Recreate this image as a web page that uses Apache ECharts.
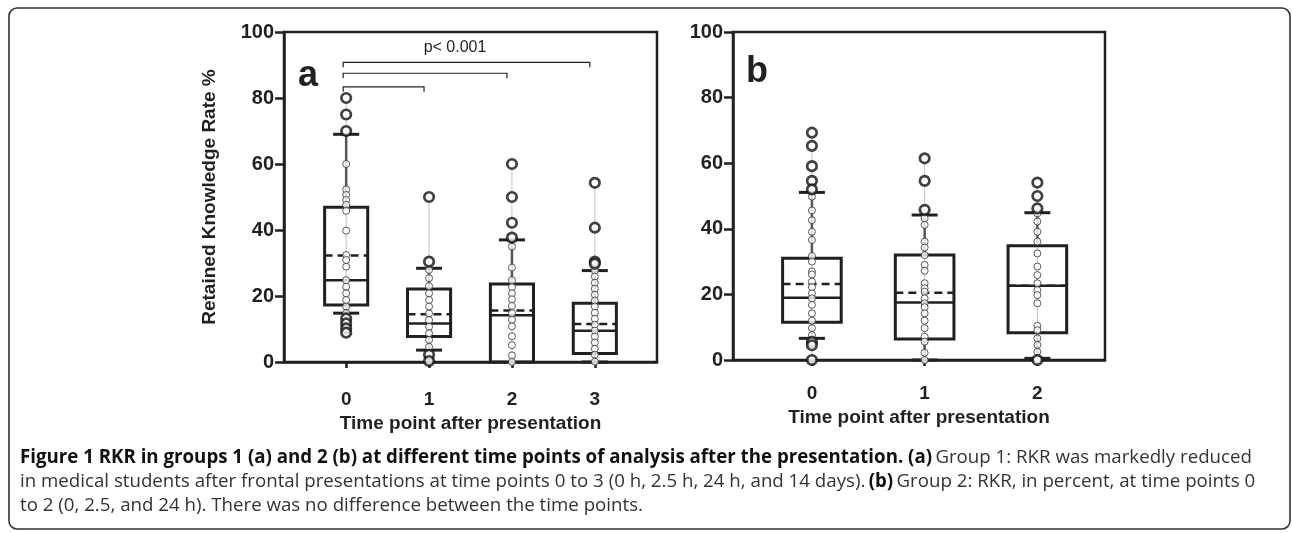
<!DOCTYPE html>
<html>
<head>
<meta charset="utf-8">
<script src="https://cdn.jsdelivr.net/npm/echarts@6/dist/echarts.min.js"></script>
<style>
html,body{margin:0;padding:0;background:#fff;}
#c{width:1292px;height:533px;}
</style>
</head>
<body>
<div id="c"></div>
<script>
// ---------- DATA ----------
const tickLabelsA = ['0', '1', '2', '3'];
const tickLabelsB = ['0', '1', '2'];
const yTicks = [0, 20, 40, 60, 80, 100];

// box statistics per time point: [lower cap, Q1, median, Q3, upper cap]
const boxStatsA = [
  [14.8, 17.3, 24.8, 46.9, 69.0],
  [3.6, 7.7, 11.7, 22.1, 28.4],
  [0.0, 0.0, 14.2, 23.6, 37.0],
  [0.0, 2.6, 9.5, 17.8, 27.7]
];
const meansA = [32.3, 14.5, 15.6, 11.5];

const boxStatsB = [
  [6.6, 11.5, 19.0, 31.0, 51.1],
  [0.0, 6.4, 17.5, 32.0, 44.2],
  [0.5, 8.3, 22.6, 34.8, 44.9]
];
const meansB = [23.2, 20.5, 22.6];

// individual values (small circles)
const pointsA0 = [60, 52.3, 50.6, 49.1, 47.6, 45.8, 39.8, 32.4, 30.9, 28.9, 24.8, 22.8, 20.8, 18.8, 16.8, 14.8];
const pointsA1 = [27.9, 25.4, 23.0, 20.8, 18.8, 16.8, 14.7, 12.7, 10.7, 8.7, 6.7, 4.6];
const pointsA2 = [35.0, 28.6, 24.8, 22.7, 20.8, 19.0, 17.0, 14.8, 12.8, 10.8, 7.8, 5.1, 2.0, 0.0];
const pointsA3 = [27.7, 25.9, 24.0, 22.2, 20.4, 18.6, 16.8, 14.9, 13.1, 11.3, 9.5, 7.7, 5.9, 4.0, 2.2, 0.1];
// outliers (bold circles)
const outliersA0 = [80, 75, 70, 13.2, 11.7, 10.2, 8.9];
const outliersA1 = [50, 30.4, 2.2, 0.3];
const outliersA2 = [60, 50, 42.2, 37.7];
const outliersA3 = [54.3, 40.7, 30.4, 29.8];

const pointsB0 = [49.8, 45.6, 42.6, 39.1, 36.6, 31.7, 30.0, 27.0, 26.1, 23.9, 22.2, 20.3, 18.8, 16.8, 14.2, 12.0, 9.7, 7.6];
const pointsB1 = [43.2, 41.2, 36.1, 34.3, 32.0, 29.0, 27.2, 23.4, 21.9, 20.8, 18.8, 17.3, 16.1, 14.2, 12.0, 9.7, 7.1, 5.6, 2.2, 0.0];
const pointsB2 = [44.7, 42.2, 39.1, 36.1, 32.5, 28.5, 25.9, 23.4, 21.3, 19.8, 17.3, 10.4, 9.1, 6.6, 4.6, 2.5, 0.2];
const outliersB0 = [69.3, 65.3, 59.1, 54.6, 52.0, 5.5, 4.5, 0.0];
const outliersB1 = [61.5, 54.6, 45.8];
const outliersB2 = [54.1, 50.0, 46.2, 0.0];

// significance brackets (panel a): from time point, to time point, height
const bracketFrom = [0, 0, 0];
const bracketTo = [1, 2, 3];
const bracketY = [83.4, 87.5, 90.8];

// ---------- BUILD ----------
const pointsA = [pointsA0, pointsA1, pointsA2, pointsA3];
const outliersA = [outliersA0, outliersA1, outliersA2, outliersA3];
const pointsB = [pointsB0, pointsB1, pointsB2];
const outliersB = [outliersB0, outliersB1, outliersB2];

function boxRows(stats, means, pts, outs) {
  return stats.map((s, i) => {
    const all = pts[i].concat(outs[i]);
    return [i, s[0], s[1], s[2], s[3], s[4], means[i], Math.min.apply(null, all), Math.max.apply(null, all)];
  });
}
function flat(groups) {
  const out = [];
  groups.forEach((g, i) => g.forEach(v => out.push([i, v])));
  return out;
}

const INK = '#231f20';

function renderBox(params, api) {
  const x = api.value(0);
  const lo = api.value(1), q1 = api.value(2), med = api.value(3), q3 = api.value(4), hi = api.value(5);
  const mean = api.value(6), mn = api.value(7), mx = api.value(8);
  const unit = api.size([1, 0])[0];
  const bw = unit * 0.52;
  const cx = api.coord([x, 0])[0];
  const Y = v => api.coord([x, v])[1];
  const L = cx - bw / 2, R = cx + bw / 2;
  const cap = 13;
  const ch = [];
  ch.push({type: 'line', shape: {x1: cx, y1: Y(mn), x2: cx, y2: Y(mx)}, style: {stroke: '#c4c4c4', lineWidth: 1}});
  if (hi > q3) {
    ch.push({type: 'line', shape: {x1: cx, y1: Y(q3), x2: cx, y2: Y(hi)}, style: {stroke: '#555', lineWidth: 2.5}});
    ch.push({type: 'line', shape: {x1: cx - cap, y1: Y(hi), x2: cx + cap, y2: Y(hi)}, style: {stroke: INK, lineWidth: 3}});
  }
  if (lo < q1) {
    ch.push({type: 'line', shape: {x1: cx, y1: Y(q1), x2: cx, y2: Y(lo)}, style: {stroke: '#555', lineWidth: 2.5}});
    ch.push({type: 'line', shape: {x1: cx - cap, y1: Y(lo), x2: cx + cap, y2: Y(lo)}, style: {stroke: INK, lineWidth: 3}});
  }
  ch.push({type: 'rect', shape: {x: L, y: Y(q3), width: bw, height: Y(q1) - Y(q3)}, style: {fill: 'none', stroke: INK, lineWidth: 3}});
  ch.push({type: 'line', shape: {x1: L, y1: Y(med), x2: R, y2: Y(med)}, style: {stroke: INK, lineWidth: 2.5}});
  ch.push({type: 'line', shape: {x1: L, y1: Y(mean), x2: R, y2: Y(mean)}, style: {stroke: INK, lineWidth: 2.5, lineDash: [8, 5]}});
  return {type: 'group', children: ch};
}

function renderBracket(params, api) {
  const a = api.coord([api.value(0), api.value(2)]);
  const b = api.coord([api.value(1), api.value(2)]);
  const x1 = a[0] - 3, x2 = b[0] - 5, y = a[1];
  return {type: 'group', children: [
    {type: 'polyline', shape: {points: [[x1, y + 5], [x1, y], [x2, y], [x2, y + 5]]}, style: {fill: 'none', stroke: INK, lineWidth: 1.2}}
  ]};
}

const axisFont = {fontFamily: 'Liberation Sans, Arial, sans-serif', fontWeight: 'bold', fontSize: 19, color: INK};

function xAxisCfg(gridIndex, min, max, labels, labelMargin, nameGap) {
  const vals = labels.map((_, i) => i);
  return {
    type: 'value', gridIndex, min, max,
    name: 'Time point after presentation', nameLocation: 'middle', nameGap,
    nameTextStyle: Object.assign({}, axisFont),
    axisLine: {show: true, onZero: false, lineStyle: {color: INK, width: 2.5}},
    axisTick: {show: true, customValues: vals, length: 6, lineStyle: {color: INK, width: 2.5}},
    axisLabel: Object.assign({show: true, customValues: vals, margin: labelMargin, formatter: v => labels[Math.round(v)]}, axisFont),
    splitLine: {show: false}
  };
}
function yAxisCfg(gridIndex, withName) {
  return {
    type: 'value', gridIndex, min: yTicks[0], max: yTicks[yTicks.length - 1], interval: yTicks[1] - yTicks[0],
    name: withName ? 'Retained Knowledge Rate %' : '', nameLocation: 'middle', nameGap: 65,
    nameTextStyle: Object.assign({}, axisFont),
    axisLine: {show: true, onZero: false, lineStyle: {color: INK, width: 2.5}},
    axisTick: {show: true, length: 9, lineStyle: {color: INK, width: 2.5}},
    axisLabel: Object.assign({}, axisFont, {margin: 10, fontSize: 20}),
    splitLine: {show: false}
  };
}

const smallPt = {symbol: 'circle', symbolSize: 7, itemStyle: {color: '#fff', borderColor: '#333', borderWidth: 1}};
const bigPt = {symbol: 'circle', symbolSize: 9.5, itemStyle: {color: '#fff', borderColor: '#111', borderWidth: 2.7}};

const chart = echarts.init(document.getElementById('c'), null, {renderer: 'canvas'});
const capFont = 'Open Sans, Lato, sans-serif';
const capSize = 18.7;
const capRich = {
  b: {fontFamily: capFont, fontWeight: 'bold', fontSize: capSize, fill: '#111'},
  n: {fontFamily: capFont, fontSize: capSize, fill: '#333'}
};
const option = {
  animation: false,
  backgroundColor: '#fff',
  grid: [
    {left: 284, top: 32, width: 373, height: 330, show: true, borderColor: INK, borderWidth: 2.5, containLabel: false, outerBoundsMode: 'none'},
    {left: 733, top: 32, width: 372, height: 328, show: true, borderColor: INK, borderWidth: 2.5, containLabel: false, outerBoundsMode: 'none'}
  ],
  xAxis: [
    xAxisCfg(0, -0.75, 3.75, tickLabelsA, 28, 52),
    xAxisCfg(1, -0.7, 2.6, tickLabelsB, 24, 48)
  ],
  yAxis: [yAxisCfg(0, true), yAxisCfg(1, false)],
  series: [
    {type: 'custom', xAxisIndex: 0, yAxisIndex: 0, z: 2, renderItem: renderBox, data: boxRows(boxStatsA, meansA, pointsA, outliersA), clip: false},
    {type: 'custom', xAxisIndex: 1, yAxisIndex: 1, z: 2, renderItem: renderBox, data: boxRows(boxStatsB, meansB, pointsB, outliersB), clip: false},
    {type: 'custom', xAxisIndex: 0, yAxisIndex: 0, z: 2, renderItem: renderBracket, data: bracketFrom.map((f, i) => [f, bracketTo[i], bracketY[i]])},
    Object.assign({type: 'scatter', xAxisIndex: 0, yAxisIndex: 0, z: 3, data: flat(pointsA)}, smallPt),
    Object.assign({type: 'scatter', xAxisIndex: 0, yAxisIndex: 0, z: 4, data: flat(outliersA)}, bigPt),
    Object.assign({type: 'scatter', xAxisIndex: 1, yAxisIndex: 1, z: 3, data: flat(pointsB)}, smallPt),
    Object.assign({type: 'scatter', xAxisIndex: 1, yAxisIndex: 1, z: 4, data: flat(outliersB)}, bigPt)
  ],
  graphic: [
    {type: 'rect', shape: {x: 9, y: 8, width: 1281, height: 521, r: 8}, style: {fill: 'none', stroke: '#333', lineWidth: 1.6}, z: 10},
    {type: 'text', x: 308, y: 76, style: {text: 'a', font: 'bold 36px Liberation Sans, Arial, sans-serif', fill: INK, align: 'center', verticalAlign: 'middle'}, z: 10},
    {type: 'text', x: 757, y: 72, style: {text: 'b', font: 'bold 36px Liberation Sans, Arial, sans-serif', fill: INK, align: 'center', verticalAlign: 'middle'}, z: 10},
    {type: 'text', x: 455, y: 48, style: {text: 'p< 0.001', font: '16px Liberation Sans, Arial, sans-serif', fill: INK, align: 'center', verticalAlign: 'middle'}, z: 10},
    {type: 'text', x: 20, y: 458, style: {
      text: '{b|Figure 1 RKR in groups 1 (a) and 2 (b) at different time points of analysis after the presentation. (a)} {n|Group 1: RKR was markedly reduced}',
      verticalAlign: 'middle', rich: capRich
    }, z: 10},
    {type: 'text', x: 20, y: 482, style: {
      text: '{n|in medical students after frontal presentations at time points 0 to 3 (0 h, 2.5 h, 24 h, and 14 days).} {b|(b)} {n|Group 2: RKR, in percent, at time points 0}',
      verticalAlign: 'middle', rich: capRich
    }, z: 10},
    {type: 'text', x: 20, y: 506, style: {
      text: '{n|to 2 (0, 2.5, and 24 h). There was no difference between the time points.}',
      verticalAlign: 'middle', rich: capRich
    }, z: 10}
  ]
};
chart.setOption(option);
</script>
</body>
</html>
